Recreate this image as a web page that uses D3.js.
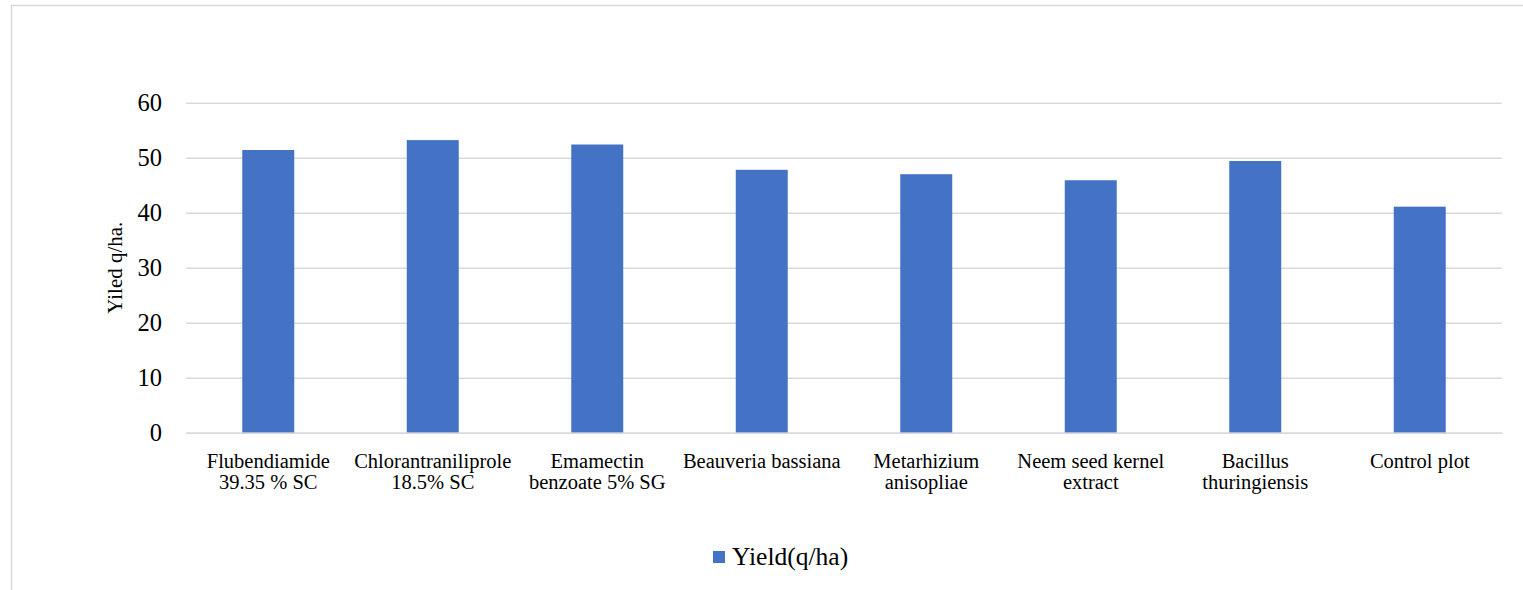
<!DOCTYPE html>
<html>
<head>
<meta charset="utf-8">
<script src="https://cdn.jsdelivr.net/npm/d3@7"></script>
<style>
  html, body { margin: 0; padding: 0; background: #fff; }
  svg { display: block; }
</style>
</head>
<body>
<svg id="chart" width="1523" height="590"></svg>
<script>
// Treatments (x-axis categories), split into display lines
const treatments = [
  ["Flubendiamide", "39.35 % SC"],
  ["Chlorantraniliprole", "18.5% SC"],
  ["Emamectin", "benzoate 5% SG"],
  ["Beauveria bassiana"],
  ["Metarhizium", "anisopliae"],
  ["Neem seed kernel", "extract"],
  ["Bacillus", "thuringiensis"],
  ["Control plot"]
];
// Yield per treatment (q/ha)
const yieldValues = [51.4, 53.2, 52.4, 47.8, 47.0, 45.9, 49.4, 41.1];
// Value-axis ticks
const yTicks = [0, 10, 20, 30, 40, 50, 60];
const seriesName = "Yield(q/ha)";
const yTitle = "Yiled q/ha.";

const FONT = "'Liberation Serif', 'DejaVu Serif', 'Noto Serif', serif";
const svg = d3.select("#chart");
const plot = { left: 186, right: 1502, top: 102.7, bottom: 432.7 };
const barColor = "#4472C4";
const gridColor = "#d9d9d9";

// Outer chart frame (left and top edges)
svg.append("path")
  .attr("d", "M11.5,590 L11.5,5.5 L1523,5.5")
  .attr("fill", "none").attr("stroke", gridColor).attr("stroke-width", 1.5);

const x = d3.scaleBand()
  .domain(d3.range(treatments.length))
  .range([plot.left, plot.right])
  .paddingInner(0.684).paddingOuter(0.342);

const y = d3.scaleLinear().domain([0, 60]).range([plot.bottom, plot.top]);

// Horizontal gridlines with tick labels
const yAxis = d3.axisLeft(y).tickValues(yTicks).tickSize(-(plot.right - plot.left)).tickPadding(24);
const gy = svg.append("g").attr("transform", `translate(${plot.left},0)`).call(yAxis);
gy.attr("font-family", FONT).attr("font-size", 24.5);
gy.select(".domain").remove();
gy.selectAll(".tick line").attr("stroke", gridColor).attr("stroke-width", 1.5);
gy.selectAll(".tick text").attr("fill", "#000").attr("font-family", FONT);

// Bars
svg.append("g").selectAll("rect")
  .data(yieldValues)
  .join("rect")
  .attr("x", (d, i) => x(i))
  .attr("width", x.bandwidth())
  .attr("y", d => y(d))
  .attr("height", d => y(0) - y(d))
  .attr("fill", barColor);

// Category labels
const xAxis = d3.axisBottom(x).tickSize(0).tickFormat(() => "");
const gx = svg.append("g").attr("transform", `translate(0,${plot.bottom})`).call(xAxis);
gx.attr("font-family", FONT).attr("font-size", 20.5);
gx.select(".domain").attr("stroke", gridColor).attr("stroke-width", 1.5);
gx.selectAll(".tick").each(function(d) {
  const t = d3.select(this).append("text")
    .attr("text-anchor", "middle")
    .attr("fill", "#000")
    .attr("font-family", FONT);
  treatments[d].forEach((line, k) => {
    t.append("tspan").attr("x", 0).attr("y", 35 + k * 21).text(line);
  });
});

// Value-axis title
svg.append("text")
  .attr("transform", `translate(122,${(plot.top + plot.bottom) / 2}) rotate(-90)`)
  .attr("text-anchor", "middle")
  .attr("font-family", FONT)
  .attr("font-size", 21)
  .text(yTitle);

// Legend
const legend = svg.append("g").attr("transform", "translate(713,551)");
legend.append("rect").attr("width", 12).attr("height", 12).attr("fill", barColor);
legend.append("text").attr("x", 19).attr("y", 13.5)
  .attr("font-family", FONT).attr("font-size", 25.5).text(seriesName);
</script>
</body>
</html>
